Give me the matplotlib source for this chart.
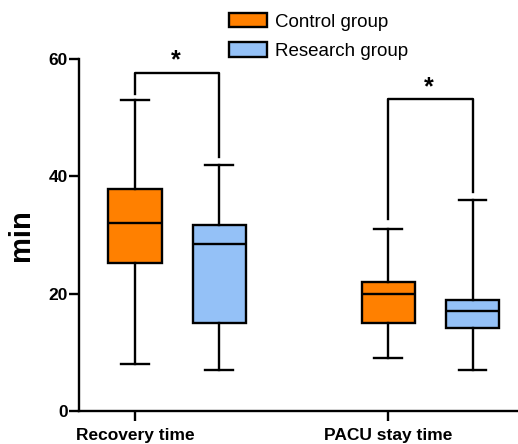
import numpy as np
import matplotlib
matplotlib.use('Agg')
from matplotlib import pyplot as plt
from matplotlib.patches import Patch

plt.rcParams['font.family'] = ['Liberation Sans', 'DejaVu Sans']

categories = ['Recovery time', 'PACU stay time']
groups = ['Control group', 'Research group']
colors = ['#FF8000', '#94C1F7']

# five-number summaries: low whisker, Q1, median, Q3, high whisker
control_stats = [[8, 25.2, 32, 37.8, 53], [9, 15, 20, 22, 31]]
research_stats = [[7, 15, 28.4, 31.7, 42], [7, 14.2, 17, 19, 36]]

# brackets: left leg bottom, right leg bottom, top
brackets = [[54, 43.3, 57.7], [32.7, 37.3, 53.1]]
yticks = [0, 20, 40, 60]


def make_bxp(stats, label):
    out = []
    for s in stats:
        out.append({'whislo': s[0], 'q1': s[1], 'med': s[2], 'q3': s[3],
                    'whishi': s[4], 'fliers': [], 'label': label})
    return out


fig = plt.figure(figsize=(5.18, 4.44), dpi=100)
ax = fig.add_axes([0.1525, 0.0743, 0.846, 0.7928])

lw = 1.7
pos_c = np.array([0, 3])
pos_r = pos_c + 1
for stats, pos, col in [(control_stats, pos_c, colors[0]), (research_stats, pos_r, colors[1])]:
    ax.bxp(make_bxp(stats, ''), positions=pos, widths=0.63, patch_artist=True,
           showfliers=False,
           boxprops=dict(facecolor=col, edgecolor='black', linewidth=lw),
           medianprops=dict(color='black', linewidth=lw),
           whiskerprops=dict(color='black', linewidth=lw),
           capprops=dict(color='black', linewidth=lw),
           capwidths=0.33)

for i, (l, r, top) in enumerate(brackets):
    x0, x1 = pos_c[i], pos_r[i]
    ax.plot([x0, x0, x1, x1], [l, top, top, r], color='black', lw=lw, clip_on=False)
    ax.text((x0 + x1) / 2 - 0.02, top + 0.8, '*', ha='center', va='baseline',
            fontsize=18, fontweight='bold')

ax.set_xlim(-0.664, 4.53)
ax.set_ylim(0, 60)
ax.set_yticks(yticks)
ax.set_xticks(pos_c)
ax.set_xticklabels(categories)
ax.spines['top'].set_visible(False)
ax.spines['right'].set_visible(False)
ax.spines['left'].set_linewidth(lw)
ax.spines['bottom'].set_linewidth(lw)
ax.tick_params(axis='y', length=7, width=lw, labelsize=12.5, pad=1)
ax.tick_params(axis='x', length=7, width=lw, labelsize=12.5, pad=5)
for t in ax.get_xticklabels() + ax.get_yticklabels():
    t.set_fontweight('bold')
ax.set_ylabel('min', fontsize=21, fontweight='bold', labelpad=10)

handles = [Patch(facecolor=c, edgecolor='black', linewidth=lw) for c in colors]
fig.legend(handles, groups, loc='upper left', bbox_to_anchor=(0.442, 1 - 13 / 444),
           frameon=False, fontsize=13.5, handlelength=2.03, handleheight=0.8,
           handletextpad=0.43, labelspacing=0.62, borderaxespad=0, borderpad=0)

fig.savefig('out.png', dpi=100)
